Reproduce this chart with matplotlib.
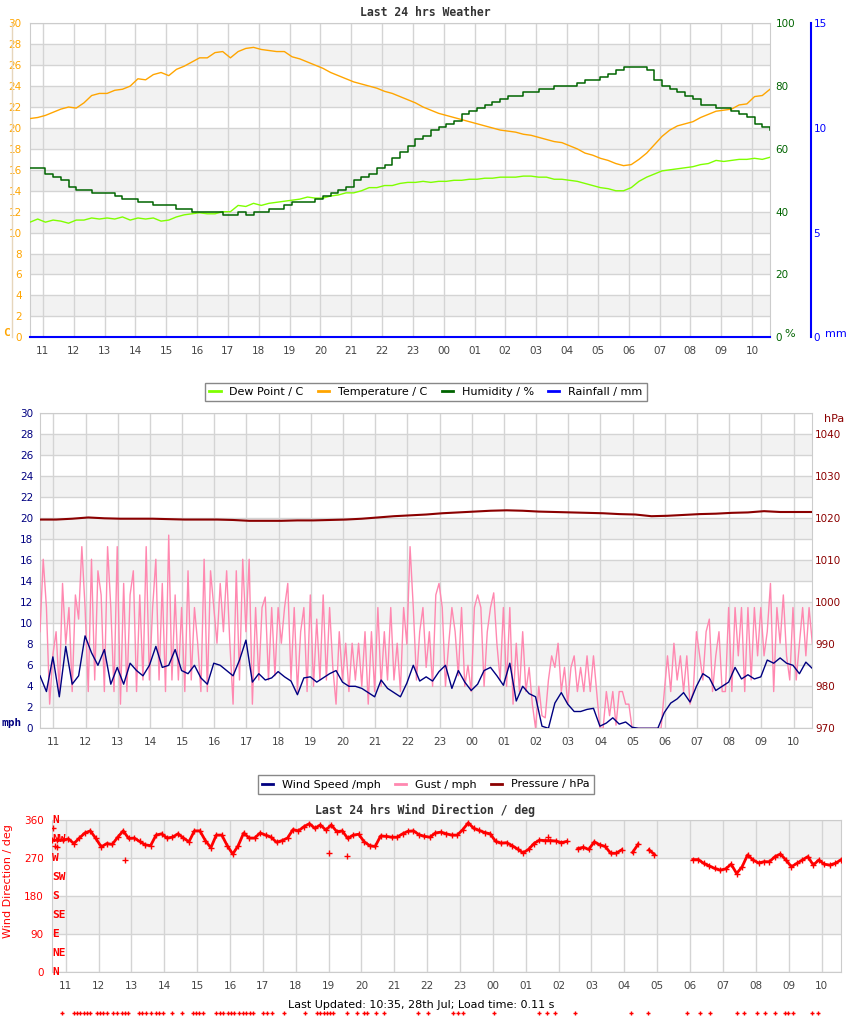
import numpy as np
import matplotlib
matplotlib.use("Agg")
import matplotlib.pyplot as plt
from matplotlib.lines import Line2D

# x axis: hours since 10:35 yesterday, last 24 hrs
START = 10 + 35 / 60
hours = list(range(11, 24)) + list(range(0, 11))
hour_labels = ["%02d" % h for h in hours]

# ---- weather, every 15 min from 10:35 ----
temperature = [20.9, 21.0, 21.2, 21.5, 21.8, 22.0, 21.9, 22.4,
               23.1, 23.3, 23.3, 23.6, 23.7, 24.0, 24.7, 24.6,
               25.1, 25.3, 25.0, 25.6, 25.9, 26.3, 26.7, 26.7,
               27.2, 27.3, 26.7, 27.3, 27.6, 27.7, 27.5, 27.4,
               27.3, 27.3, 26.8, 26.6, 26.3, 26.0, 25.7, 25.3,
               25.0, 24.7, 24.4, 24.2, 24.0, 23.8, 23.5, 23.3,
               23.0, 22.7, 22.4, 22.0, 21.7, 21.4, 21.2, 21.0,
               20.8, 20.6, 20.4, 20.2, 20.0, 19.8, 19.7, 19.6,
               19.4, 19.3, 19.1, 18.9, 18.7, 18.6, 18.3, 18.0,
               17.6, 17.4, 17.1, 16.9, 16.6, 16.4, 16.5, 17.0,
               17.6, 18.4, 19.2, 19.8, 20.2, 20.4, 20.6, 21.0,
               21.3, 21.6, 21.7, 21.8, 22.2, 22.3, 23.0, 23.1,
               23.7]
dew_point = [11.0, 11.3, 11.0, 11.2, 11.1, 10.9, 11.2, 11.2,
             11.4, 11.3, 11.4, 11.3, 11.5, 11.2, 11.4, 11.3,
             11.4, 11.1, 11.2, 11.5, 11.7, 11.8, 11.9, 11.8,
             11.8, 12.0, 12.0, 12.6, 12.5, 12.8, 12.6, 12.8,
             12.9, 13.0, 13.1, 13.2, 13.4, 13.3, 13.3, 13.5,
             13.6, 13.8, 13.8, 14.0, 14.3, 14.3, 14.5, 14.5,
             14.7, 14.8, 14.8, 14.9, 14.8, 14.9, 14.9, 15.0,
             15.0, 15.1, 15.1, 15.2, 15.2, 15.3, 15.3, 15.3,
             15.4, 15.4, 15.3, 15.3, 15.1, 15.1, 15.0, 14.9,
             14.7, 14.5, 14.3, 14.2, 14.0, 14.0, 14.3, 14.9,
             15.3, 15.6, 15.9, 16.0, 16.1, 16.2, 16.3, 16.5,
             16.6, 16.9, 16.8, 16.9, 17.0, 17.0, 17.1, 17.0,
             17.2]
humidity = [54, 54, 52, 51, 50, 48, 47, 47,
            46, 46, 46, 45, 44, 44, 43, 43,
            42, 42, 42, 41, 41, 40, 40, 40,
            40, 39, 39, 40, 39, 40, 40, 41,
            41, 42, 43, 43, 43, 44, 45, 46,
            47, 48, 50, 51, 52, 54, 55, 57,
            59, 61, 63, 64, 66, 67, 68, 69,
            71, 72, 73, 74, 75, 76, 77, 77,
            78, 78, 79, 79, 80, 80, 80, 81,
            82, 82, 83, 84, 85, 86, 86, 86,
            85, 82, 80, 79, 78, 77, 76, 74,
            74, 73, 73, 72, 71, 70, 68, 67,
            66]
rainfall = [0.0, 0.0]

# ---- pressure every 30 min ----
pressure = [1019.7, 1019.7, 1019.9, 1020.2, 1020.0, 1019.9, 1019.9, 1019.9,
            1019.8, 1019.7, 1019.7, 1019.7, 1019.6, 1019.4, 1019.4, 1019.4,
            1019.5, 1019.5, 1019.6, 1019.7, 1019.9, 1020.2, 1020.5, 1020.7,
            1020.9, 1021.2, 1021.4, 1021.6, 1021.8, 1021.9, 1021.8, 1021.6,
            1021.5, 1021.4, 1021.3, 1021.2, 1021.0, 1020.9, 1020.5, 1020.6,
            1020.8, 1021.0, 1021.1, 1021.3, 1021.4, 1021.7, 1021.5, 1021.5,
            1021.5]

# ---- wind speed every 12 min ----
wind_speed = [5.0, 3.5, 6.8, 3.0, 7.8,
              4.2, 5.0, 8.8, 7.2, 6.0,
              7.5, 4.2, 5.8, 4.2, 6.2,
              5.5, 5.0, 6.0, 7.8, 5.8,
              6.0, 7.5, 5.5, 5.2, 6.0,
              4.8, 4.2, 6.2, 6.0, 5.5,
              5.0, 6.5, 8.4, 4.4, 5.2,
              4.6, 4.8, 5.4, 4.9, 4.5,
              3.2, 4.8, 4.9, 4.4, 4.8,
              5.2, 5.5, 4.4, 4.0, 4.0,
              3.8, 3.4, 3.0, 4.6, 3.8,
              3.4, 3.0, 4.3, 6.0, 4.5,
              4.9, 4.5, 5.4, 6.0, 3.8,
              5.5, 4.4, 3.6, 4.2, 5.5,
              5.8, 5.0, 4.1, 6.2, 2.6,
              4.0, 3.3, 3.0, 0.2, 0.0,
              2.4, 3.4, 2.3, 1.6, 1.6,
              1.8, 1.9, 0.2, 0.5, 1.0,
              0.4, 0.6, 0.1, 0.0, 0.0,
              0.0, 0.0, 1.5, 2.4, 2.8,
              3.4, 2.5, 4.0, 5.2, 4.8,
              3.6, 4.0, 4.4, 5.8, 4.7,
              5.1, 4.7, 4.9, 6.5, 6.2,
              6.7, 6.2, 6.0, 5.2, 6.3,
              5.7]

# ---- gusts every 6 min (one row per hour, from 10:35) ----
gust = [9.2, 16.1, 11.5, 2.3, 7.0, 9.2, 3.5, 13.8, 8.0, 11.5,
        3.5, 12.7, 10.4, 17.3, 11.5, 3.5, 16.1, 4.6, 15.0, 12.7,
        3.5, 17.3, 11.5, 3.5, 17.3, 2.3, 13.8, 3.5, 12.7, 15.0,
        3.5, 12.7, 4.6, 17.3, 4.6, 11.5, 16.1, 4.6, 13.8, 3.5,
        18.4, 4.6, 12.7, 4.6, 11.5, 3.5, 15.0, 4.6, 11.5, 8.1,
        3.5, 16.1, 3.5, 15.0, 11.5, 8.1, 13.8, 9.2, 15.0, 8.1,
        2.3, 15.0, 4.6, 16.1, 9.2, 16.1, 2.3, 11.5, 4.6, 11.5,
        12.5, 4.6, 11.5, 5.0, 11.5, 8.1, 11.5, 13.8, 4.6, 11.5,
        3.5, 9.2, 11.5, 3.5, 12.7, 4.0, 10.4, 4.6, 12.7, 4.6,
        11.5, 5.8, 2.3, 9.2, 4.6, 8.1, 3.5, 8.1, 4.6, 8.1,
        4.0, 9.2, 2.3, 9.2, 3.5, 11.5, 4.0, 9.2, 4.6, 11.5,
        4.6, 8.1, 3.5, 11.5, 8.0, 17.3, 11.5, 4.6, 9.2, 11.5,
        5.8, 9.2, 4.0, 12.7, 13.8, 11.5, 4.0, 8.0, 11.5, 9.2,
        5.0, 11.5, 4.0, 6.0, 3.5, 11.5, 12.7, 11.5, 4.0, 9.2,
        11.5, 12.9, 8.0, 4.6, 11.5, 4.0, 11.5, 2.3, 8.1, 3.5,
        9.2, 3.5, 5.8, 2.3, 0.0, 4.0, 1.2, 1.0, 4.6, 6.9,
        5.8, 8.1, 3.5, 5.8, 2.3, 5.8, 6.9, 3.5, 5.8, 3.5,
        6.9, 3.5, 6.9, 3.5, 0.0, 0.0, 3.5, 1.2, 3.5, 0.3,
        3.5, 3.5, 2.3, 2.3, 0.0, 0.0, 0.0, 0.0, 0.0, 0.0,
        0.0, 0.0, 0.0, 0.0, 3.5, 6.9, 3.5, 8.1, 4.6, 6.9,
        3.5, 6.9, 2.3, 3.5, 9.2, 6.9, 4.6, 9.2, 10.4, 3.5,
        6.9, 9.2, 3.5, 3.5, 11.5, 3.5, 11.5, 6.9, 11.5, 3.5,
        11.5, 4.6, 11.5, 6.9, 11.5, 6.9, 9.2, 13.8, 3.5, 11.5,
        8.1, 12.7, 6.9, 4.6, 11.5, 4.6, 8.1, 11.5, 6.9, 11.5,
        8.1]

# ---- wind direction every 10 min (nan = no reading) ----
nan = float("nan")
wind_dir = [313, 313, 313, 316, 305, 318,
            330, 335, 317, 297, 305, 303,
            320, 335, 317, 318, 310, 302,
            300, 325, 328, 318, 320, 328,
            318, 309, 335, 335, 312, 295,
            325, 325, 300, 280, 300, 330,
            318, 318, 330, 325, 320, 308,
            312, 318, 338, 335, 345, 352,
            341, 349, 337, 349, 333, 335,
            317, 325, 327, 309, 300, 298,
            323, 322, 320, 320, 328, 334,
            335, 326, 322, 320, 330, 332,
            328, 325, 325, 338, 354, 341,
            336, 331, 328, 310, 306, 307,
            300, 292, 283, 291, 305, 313,
            312, 312, 311, 307, 310, nan,
            293, 296, 291, 309, 302, 298,
            282, 282, 290, nan, 284, 303,
            nan, 290, 279, nan, nan, nan,
            nan, nan, nan, 267, 267, 258,
            252, 246, 242, 245, 256, 234,
            250, 278, 266, 259, 262, 262,
            274, 280, 266, 250, 258, 266,
            274, 254, 266, 256, 254, 258,
            266]
odd_dir_times = ["10:37", "10:41", "10:44", "12:49", "19:00", "19:33", "01:41"]
odd_dir_values = [341, 300, 296, 266, 282, 276, 320]
calm_times = ["10:53", "11:15", "11:21", "11:27", "11:33", "11:39", "11:45", "11:57",
              "12:03", "12:09", "12:15", "12:27", "12:33", "12:42", "12:48", "12:54",
              "13:14", "13:20", "13:27", "13:36", "13:45", "13:51", "13:58", "14:14",
              "14:32", "14:52", "14:58", "15:04", "15:11", "15:34", "15:41", "15:48",
              "15:56", "16:02", "16:08", "16:16", "16:23", "16:29", "16:36", "16:42",
              "17:01", "17:08", "17:16", "17:39", "18:17", "18:39", "18:45", "18:51",
              "18:57", "19:03", "19:08", "19:34", "19:52", "20:04", "20:11", "20:27",
              "20:42", "21:43", "22:01", "22:47", "22:56", "23:05", "00:02", "01:24",
              "01:39", "01:54", "02:29", "04:13", "04:43", "05:55", "06:19", "06:36",
              "07:26", "07:39", "08:02", "08:17", "08:35", "08:53", "08:59", "09:08",
              "09:42", "09:54"]
compass = ["N", "NW", "W", "SW", "S", "SE", "E", "NE", "N"]


def since_start(hhmm):
    h, m = hhmm.split(":")
    return (int(h) + int(m) / 60 - START) % 24


def span(values):
    return np.linspace(0, 24, len(values))


tick_pos = [(h - START) % 24 for h in hours]

W, H = 850, 1017
plt.rcParams["font.family"] = "DejaVu Sans"
fig = plt.figure(figsize=(W / 100, H / 100), dpi=100)

GRID = "#d4d4d4"
BAND = "#f2f2f2"


def panel(l, t, r, b, ymax, ystep, shaded):
    ax = fig.add_axes([l / W, 1 - b / H, (r - l) / W, (b - t) / H])
    ax.set_xlim(0, 24)
    ax.set_ylim(0, ymax)
    ax.set_xticks(tick_pos, hour_labels)
    ax.set_yticks(range(0, ymax + 1, ystep))
    ax.tick_params(axis="x", length=0, pad=6, labelcolor="#444444", labelsize=7.5)
    ax.tick_params(axis="y", length=0, labelsize=7.5)
    for lo, hi in shaded:
        ax.axhspan(lo, hi, color=BAND, lw=0, zorder=0)
    for y in range(0, ymax + 1, ystep):
        ax.axhline(y, color=GRID, lw=1, zorder=0.5)
    for x in tick_pos:
        ax.axvline(x, color=GRID, lw=1, zorder=0.5)
    for s in ax.spines.values():
        s.set_color("#cccccc")
    return ax


def twin(ax):
    tw = ax.twinx()
    for s in tw.spines.values():
        s.set_visible(False)
    tw.tick_params(axis="y", length=0, labelsize=7.5)
    return tw


title_font = dict(family="DejaVu Sans Mono", weight="bold", fontsize=8.3, color="#333333")

# ================= top: temperature etc =================
fig.text(425 / W, 1 - 12 / H, "Last 24 hrs Weather", ha="center", va="center", **title_font)
ax1 = panel(30, 23.3, 770, 337.3, 30, 2, [(a, a + 2) for a in range(2, 28, 4)])
ax1.tick_params(axis="y", labelcolor="#ffa500", pad=6)
ax1.plot(span(dew_point), dew_point, color="#7fff00", lw=1, zorder=3)
ax1.plot(span(temperature), temperature, color="#ffa500", lw=1, zorder=3)

axh = twin(ax1)
axh.set_ylim(0, 100)
axh.set_yticks(range(0, 101, 20))
axh.tick_params(axis="y", labelcolor="#006400", pad=4)
axh.step(span(humidity), humidity, where="post", color="#006400", lw=1.1)

axr = twin(ax1)
axr.set_ylim(0, 15)
axr.set_yticks([0, 5, 10, 15])
axr.tick_params(axis="y", labelcolor="#0000ff", pad=2)
axr.spines["right"].set_visible(True)
axr.spines["right"].set_position(("outward", 40.7 * 0.72))
axr.spines["right"].set_color("#0000ff")
axr.spines["right"].set_linewidth(1.5)
axr.plot(span(rainfall), rainfall, color="#0000ff", lw=1.5, clip_on=False)

fig.add_artist(Line2D([11.7 / W, 11.7 / W], [1 - 23.3 / H, 1 - 337.3 / H],
                      color="#e6d6bc", lw=1))
fig.text(6 / W, 1 - 333 / H, "C", ha="center", va="center", color="#ffa500",
         family="DejaVu Sans Mono", weight="bold", fontsize=8)
fig.text(790 / W, 1 - 334 / H, "%", ha="center", va="center", color="#006400", fontsize=8)
fig.text(836 / W, 1 - 334 / H, "mm", ha="center", va="center", color="#0000ff", fontsize=8)

leg1 = [Line2D([], [], color="#7fff00", lw=2), Line2D([], [], color="#ffa500", lw=2),
        Line2D([], [], color="#006400", lw=2), Line2D([], [], color="#0000ff", lw=2)]
lg = fig.legend(leg1, ["Dew Point / C", "Temperature / C", "Humidity / %", "Rainfall / mm"],
                loc="center", bbox_to_anchor=(426 / W, 1 - 392 / H), ncol=4, fontsize=8,
                fancybox=False, edgecolor="#888888", handlelength=1.0, handletextpad=0.8,
                columnspacing=1.3, borderpad=0.4, framealpha=1)
lg.get_frame().set_linewidth(1)

# ================= middle: wind / pressure =================
ax2 = panel(40, 413.3, 812.3, 728.3, 30, 2, [(a, a + 2) for a in range(2, 28, 4)])
ax2.tick_params(axis="y", labelcolor="#000080", pad=5)
ax2.plot(span(gust), gust, color="#ff88b0", lw=1, zorder=3)
ax2.plot(span(wind_speed), wind_speed, color="#000080", lw=1, zorder=4)

axp = twin(ax2)
axp.set_ylim(970, 1045)
axp.set_yticks(range(970, 1041, 10))
axp.tick_params(axis="y", labelcolor="#8b0000", pad=2)
axp.plot(span(pressure), pressure, color="#8b0000", lw=1.5)

fig.text(12 / W, 1 - 723 / H, "mph", ha="center", va="center", color="#000080",
         family="DejaVu Sans Mono", weight="bold", fontsize=8)
fig.text(834 / W, 1 - 419 / H, "hPa", ha="center", va="center", color="#8b0000", fontsize=8)

leg2 = [Line2D([], [], color="#000080", lw=2), Line2D([], [], color="#ff88b0", lw=2),
        Line2D([], [], color="#8b0000", lw=2)]
lg2 = fig.legend(leg2, ["Wind Speed /mph", "Gust / mph", "Pressure / hPa"],
                 loc="center", bbox_to_anchor=(426 / W, 1 - 784.5 / H), ncol=3, fontsize=8,
                 fancybox=False, edgecolor="#888888", handlelength=1.0, handletextpad=0.8,
                 columnspacing=1.3, borderpad=0.4, framealpha=1)
lg2.get_frame().set_linewidth(1)

# ================= bottom: wind direction =================
fig.text(425 / W, 1 - 810 / H, "Last 24 hrs Wind Direction / deg", ha="center",
         va="center", **title_font)
ax3 = panel(52, 820.3, 840.7, 972.3, 360, 90, [(90, 180), (270, 360)])
ax3.tick_params(axis="y", labelcolor="#ff0000", pad=6)
ax3.plot(span(wind_dir), wind_dir, color="#ff0000", lw=2, marker="+", ms=4, mew=1, zorder=3)
ax3.plot([since_start(t) for t in odd_dir_times], odd_dir_values, ls="none",
         marker="+", ms=4, mew=1, color="#ff0000", zorder=3)
ax3.plot([since_start(t) for t in calm_times], [-0.268] * len(calm_times), ls="none",
         marker="+", ms=3, mew=1, color="#ff0000", clip_on=False,
         transform=ax3.get_xaxis_transform())
for i, name in enumerate(compass):
    ax3.text(0.0, 360 - 45 * i, name, transform=ax3.get_yaxis_transform(), ha="left",
             va="center", color="#ff0000", family="DejaVu Sans Mono", weight="bold",
             fontsize=8, zorder=5)
fig.text(8 / W, 1 - 881 / H, "Wind Direction / deg", rotation=90, ha="center",
         va="center", color="#ff0000", fontsize=8)

fig.text(421 / W, 1 - 1005 / H, "Last Updated: 10:35, 28th Jul; Load time: 0.11 s",
         ha="center", va="center", color="black", fontsize=8)

fig.savefig("out.png", dpi=100)
